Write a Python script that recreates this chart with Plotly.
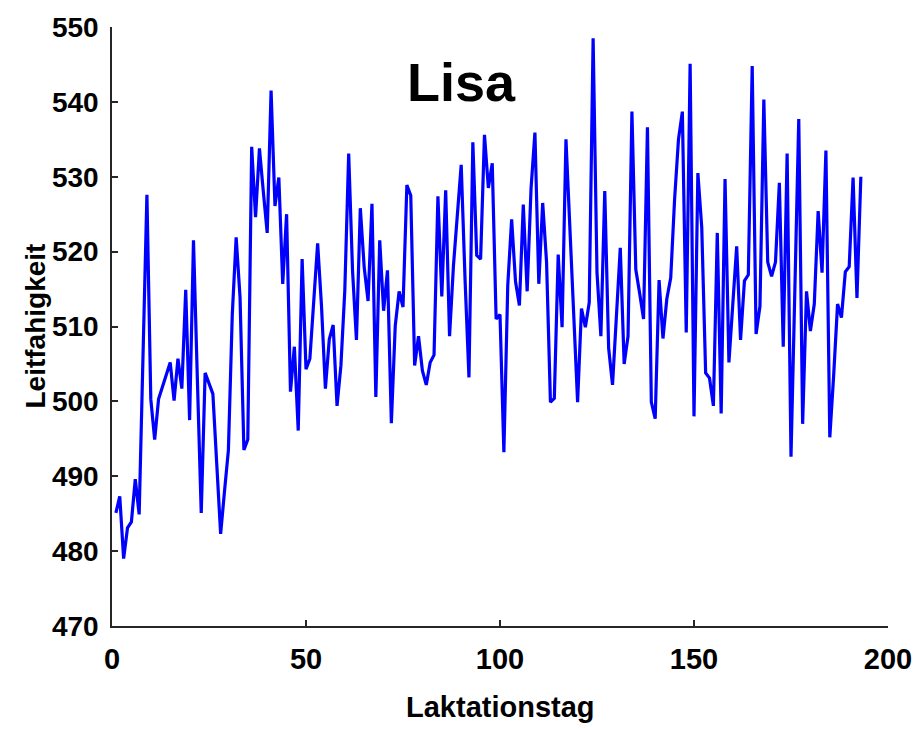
import plotly.graph_objects as go

# Laktationstag (day) and Leitfahigkeit (conductivity) values
days = list(range(1, 194))
leitfaehigkeit = [
    485.1, 487.3, 479.0, 483.1, 483.9, 489.6, 484.9, 506.0, 527.6, 500.3,
    494.9, 500.3, 502.0, 503.4, 505.2, 500.1, 505.7, 501.7, 514.9, 497.5,
    521.5, 503.0, 485.1, 503.8, 502.4, 501.0, 491.6, 482.3, 488.0, 493.5,
    511.6, 521.9, 513.9, 493.5, 494.9, 534.0, 524.6, 533.8, 528.0, 522.5,
    541.5, 526.1, 529.9, 515.7, 525.0, 501.3, 507.3, 496.1, 519.0, 504.3,
    505.7, 513.0, 521.1, 512.7, 501.7, 508.3, 510.2, 499.4, 504.8, 514.8,
    533.1, 517.4, 508.2, 525.8, 517.9, 513.4, 526.4, 500.6, 521.5, 512.1,
    517.5, 497.1, 510.1, 514.7, 512.6, 528.9, 527.5, 504.8, 508.7, 504.1,
    502.2, 505.2, 506.2, 527.4, 514.0, 528.2, 508.7, 518.1, 524.6, 531.6,
    516.2, 503.2, 534.6, 519.5, 519.0, 535.6, 528.5, 531.8, 511.0, 511.6,
    493.2, 515.5, 524.3, 516.0, 512.8, 526.3, 514.7, 528.4, 535.9, 515.7,
    526.5, 518.6, 499.9, 500.4, 519.6, 509.9, 535.0, 523.0, 511.0, 499.9,
    512.4, 509.9, 513.2, 548.5, 517.2, 508.7, 528.1, 507.1, 502.2, 511.3,
    520.5, 505.0, 508.7, 538.7, 517.6, 514.4, 511.0, 536.6, 499.9, 497.7,
    516.2, 508.4, 513.7, 516.5, 527.0, 535.0, 538.7, 509.2, 545.1, 498.0,
    530.5, 523.2, 503.8, 503.1, 499.4, 522.5, 498.4, 529.7, 505.2, 513.0,
    520.7, 508.2, 516.1, 516.9, 544.8, 509.0, 512.7, 540.3, 518.6, 516.7,
    518.6, 529.2, 507.3, 533.1, 492.6, 515.0, 537.7, 497.0, 514.7, 509.4,
    513.0, 525.4, 517.2, 533.5, 495.2, 503.5, 513.0, 511.2, 517.3, 518.0,
    529.9, 513.8, 530.0,
]

x_ticks = [0, 50, 100, 150, 200]
y_ticks = [470, 480, 490, 500, 510, 520, 530, 540, 550]
title_text = "Lisa"
x_label = "Laktationstag"
y_label = "Leitfahigkeit"

FONT = "Liberation Sans, Arial, sans-serif"

fig = go.Figure()
fig.add_trace(go.Scatter(
    x=days, y=leitfaehigkeit, mode="lines",
    line=dict(color="#0000FF", width=3.2),
    showlegend=False, hoverinfo="x+y",
))

fig.update_layout(
    width=924, height=729,
    paper_bgcolor="white", plot_bgcolor="white",
    margin=dict(l=112, r=31, t=25, b=103),
    font=dict(family=FONT, color="black"),
    xaxis=dict(
        range=[0, 200], tickvals=x_ticks, ticktext=[str(v) for v in x_ticks],
        showgrid=False, zeroline=False,
        showline=True, linecolor="#262626", linewidth=1.5,
        ticks="inside", ticklen=6, tickwidth=1.5, tickcolor="#262626",
        tickfont=dict(family=FONT, size=29, weight=700, color="black"),
        ticklabelstandoff=6,
    ),
    yaxis=dict(
        range=[470, 550], tickvals=y_ticks, ticktext=[str(v) for v in y_ticks],
        showgrid=False, zeroline=False,
        showline=True, linecolor="#262626", linewidth=1.5,
        ticks="inside", ticklen=6, tickwidth=1.5, tickcolor="#262626",
        tickfont=dict(family=FONT, size=28, weight=700, color="black"),
        ticklabelstandoff=6,
    ),
    annotations=[
        dict(text=title_text, x=90, y=542.7, xref="x", yref="y",
             showarrow=False, xanchor="center", yanchor="middle",
             font=dict(family=FONT, size=54, weight=700, color="black")),
        dict(text=x_label, x=0.5, y=0, xref="paper", yref="paper",
             showarrow=False, xanchor="center", yanchor="middle", yshift=-81,
             font=dict(family=FONT, size=29, weight=700, color="black")),
        dict(text=y_label, x=0, y=0.5, xref="paper", yref="paper",
             showarrow=False, xanchor="center", yanchor="middle", xshift=-77,
             textangle=-90,
             font=dict(family=FONT, size=28, weight=700, color="black")),
    ],
)

fig.write_html(
    "out.html",
    config={"displayModeBar": False},
    post_script="document.body.style.margin='0';document.body.style.overflow='hidden';",
)
